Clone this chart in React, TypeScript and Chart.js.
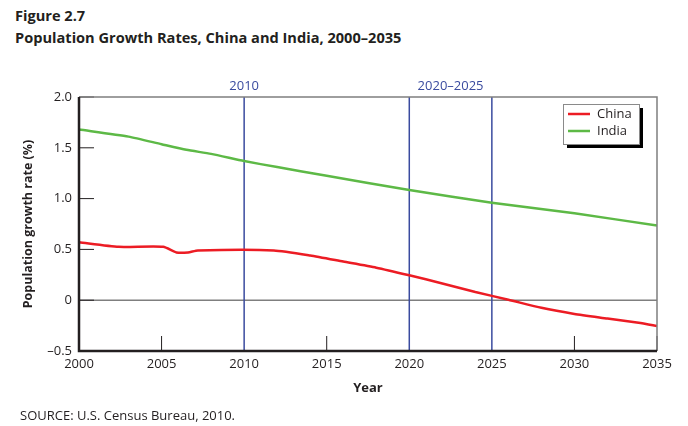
import React, { useEffect, useRef } from 'react';
import { Chart, registerables } from 'chart.js';

Chart.register(...registerables);

// ---- Data ----
const chinaYears = [2000, 2002.4, 2005.1, 2005.9, 2006.6, 2007.2, 2011.8, 2014, 2016, 2018, 2020, 2022, 2024, 2026, 2028, 2030, 2032, 2034, 2035];
const chinaRates = [0.57, 0.525, 0.525, 0.47, 0.47, 0.49, 0.49, 0.44, 0.38, 0.32, 0.245, 0.165, 0.08, 0.005, -0.075, -0.135, -0.18, -0.225, -0.255];

const indiaYears = [2000, 2003, 2005, 2006.5, 2008, 2010, 2012, 2015, 2020, 2025, 2030, 2035];
const indiaRates = [1.68, 1.61, 1.535, 1.48, 1.44, 1.37, 1.31, 1.225, 1.085, 0.96, 0.855, 0.735];

const markerYears = [2010, 2020, 2025];
const markerLabels = [
  { text: '2010', from: 2010, to: 2010 },
  { text: '2020–2025', from: 2020, to: 2025 },
];
const xTickYears = [2000, 2005, 2010, 2015, 2020, 2025, 2030, 2035];
const yTickValues = [-0.5, 0, 0.5, 1.0, 1.5, 2.0];

const FONT = '"Open Sans", "Noto Sans", sans-serif';
const TEXT = '#231f20';
const RED = '#ec1c24';
const GREEN = '#5db946';
const BLUE = '#3a4b9f';
const GRAY = '#7f7f7f';

const formatY = (v: number) => (v === 0 ? '0' : v < 0 ? '–' + Math.abs(v).toFixed(1) : v.toFixed(1));

const decorPlugin = {
  id: 'decor',
  beforeDatasetsDraw(chart: any) {
    const { ctx, chartArea: a, scales } = chart;
    const x = scales.x, y = scales.y;
    ctx.save();
    // zero line
    ctx.strokeStyle = GRAY;
    ctx.lineWidth = 1.5;
    ctx.beginPath();
    ctx.moveTo(a.left, y.getPixelForValue(0));
    ctx.lineTo(a.right, y.getPixelForValue(0));
    ctx.stroke();
    // marker lines
    ctx.strokeStyle = BLUE;
    ctx.lineWidth = 1.5;
    markerYears.forEach((yr) => {
      const px = x.getPixelForValue(yr);
      ctx.beginPath();
      ctx.moveTo(px, a.top);
      ctx.lineTo(px, a.bottom);
      ctx.stroke();
    });
    // marker labels
    ctx.fillStyle = BLUE;
    ctx.font = `13px ${FONT}`;
    ctx.textAlign = 'center';
    ctx.textBaseline = 'middle';
    markerLabels.forEach((m) => {
      const px = (x.getPixelForValue(m.from) + x.getPixelForValue(m.to)) / 2;
      ctx.fillText(m.text, px, a.top - 11);
    });
    ctx.restore();
  },
  afterDatasetsDraw(chart: any) {
    const { ctx, chartArea: a, scales } = chart;
    const x = scales.x, y = scales.y;
    ctx.save();
    // tick marks (inward)
    ctx.strokeStyle = TEXT;
    ctx.lineWidth = 1;
    yTickValues.forEach((v) => {
      const py = y.getPixelForValue(v);
      ctx.beginPath();
      ctx.moveTo(a.left, py);
      ctx.lineTo(a.left + 15, py);
      ctx.stroke();
    });
    xTickYears.forEach((v) => {
      if (markerYears.includes(v)) return;
      const px = x.getPixelForValue(v);
      ctx.beginPath();
      ctx.moveTo(px, a.bottom);
      ctx.lineTo(px, a.bottom - 15);
      ctx.stroke();
    });
    // top & right border (gray)
    ctx.strokeStyle = GRAY;
    ctx.lineWidth = 1.5;
    ctx.beginPath();
    ctx.moveTo(a.left, a.top);
    ctx.lineTo(a.right, a.top);
    ctx.lineTo(a.right, a.bottom);
    ctx.stroke();
    // left & bottom axes (black)
    ctx.strokeStyle = TEXT;
    ctx.lineWidth = 2.5;
    ctx.beginPath();
    ctx.moveTo(a.left, a.top);
    ctx.lineTo(a.left, a.bottom);
    ctx.lineTo(a.right, a.bottom);
    ctx.stroke();

    // legend
    const lx = 563, ly = 104, lw = 76, lh = 40;
    ctx.fillStyle = '#000';
    ctx.fillRect(lx + 4, ly + 4, lw, lh);
    ctx.fillStyle = '#fff';
    ctx.fillRect(lx, ly, lw, lh);
    ctx.strokeStyle = '#8a8a8a';
    ctx.lineWidth = 1;
    ctx.strokeRect(lx + 0.5, ly + 0.5, lw, lh);
    ctx.font = `13px ${FONT}`;
    ctx.textAlign = 'left';
    ctx.textBaseline = 'middle';
    chart.data.datasets.forEach((ds: any, i: number) => {
      const cy = ly + 10 + i * 17;
      ctx.strokeStyle = ds.borderColor;
      ctx.lineWidth = 2.5;
      ctx.beginPath();
      ctx.moveTo(lx + 5, cy);
      ctx.lineTo(lx + 27, cy);
      ctx.stroke();
      ctx.fillStyle = TEXT;
      ctx.fillText(ds.label, lx + 34, cy);
    });
    ctx.restore();
  },
};

export default function App() {
  const ref = useRef<HTMLCanvasElement | null>(null);

  useEffect(() => {
    document.body.style.margin = '0';
    const canvas = ref.current;
    if (!canvas) return;
    const chart = new Chart(canvas, {
      type: 'line',
      data: {
        datasets: [
          {
            label: 'China',
            data: chinaYears.map((yr, i) => ({ x: yr, y: chinaRates[i] })),
            borderColor: RED,
            borderWidth: 2.5,
            pointRadius: 0,
            tension: 0.2,
            fill: false,
          },
          {
            label: 'India',
            data: indiaYears.map((yr, i) => ({ x: yr, y: indiaRates[i] })),
            borderColor: GREEN,
            borderWidth: 2.5,
            pointRadius: 0,
            tension: 0.2,
            fill: false,
          },
        ],
      },
      options: {
        animation: false,
        responsive: false,
        maintainAspectRatio: false,
        layout: { padding: { top: 97, right: 31, left: 0, bottom: 0 } },
        plugins: {
          legend: { display: false },
          tooltip: { enabled: false },
          title: { display: false },
        },
        scales: {
          x: {
            type: 'linear',
            min: 2000,
            max: 2035,
            afterFit: (s: any) => { s.height = 75; },
            afterBuildTicks: (s: any) => { s.ticks = xTickYears.map((v) => ({ value: v })); },
            grid: { display: false, drawTicks: false },
            border: { display: false },
            ticks: {
              padding: 5,
              color: TEXT,
              font: { family: FONT, size: 13 },
              maxRotation: 0,
              autoSkip: false,
              callback: (v: any) => String(v),
            },
            title: {
              display: true,
              text: 'Year',
              color: TEXT,
              font: { family: FONT, size: 13, weight: 'bold' },
              padding: { top: 0, bottom: 30 },
            },
          },
          y: {
            min: -0.5,
            max: 2.0,
            afterFit: (s: any) => { s.width = 79; },
            afterBuildTicks: (s: any) => { s.ticks = yTickValues.map((v) => ({ value: v })); },
            grid: { display: false, drawTicks: false },
            border: { display: false },
            ticks: {
              padding: 7,
              color: TEXT,
              font: { family: FONT, size: 13 },
              callback: (v: any) => formatY(Number(v)),
            },
            title: {
              display: true,
              text: 'Population growth rate (%)',
              color: TEXT,
              font: { family: FONT, size: 12.5, weight: 'bold' },
              padding: { top: 21, bottom: 0 },
            },
          },
        },
      },
      plugins: [decorPlugin],
    });
    return () => chart.destroy();
  }, []);

  return (
    <div style={{ position: 'relative', width: 688, height: 426, background: '#fff', overflow: 'hidden' }}>
      <div
        style={{
          position: 'absolute',
          left: 15,
          top: 4,
          fontFamily: FONT,
          fontWeight: 700,
          fontSize: 14.6,
          lineHeight: '22px',
          color: TEXT,
          whiteSpace: 'nowrap',
        }}
      >
        <div>Figure 2.7</div>
        <div>Population Growth Rates, China and India, 2000–2035</div>
      </div>
      <canvas ref={ref} width={688} height={426} style={{ position: 'absolute', left: 0, top: 0, display: 'block' }} />
      <div
        style={{
          position: 'absolute',
          left: 20,
          top: 406,
          fontFamily: FONT,
          fontSize: 13,
          lineHeight: '18px',
          color: TEXT,
          whiteSpace: 'nowrap',
        }}
      >
        SOURCE: U.S. Census Bureau, 2010.
      </div>
    </div>
  );
}
